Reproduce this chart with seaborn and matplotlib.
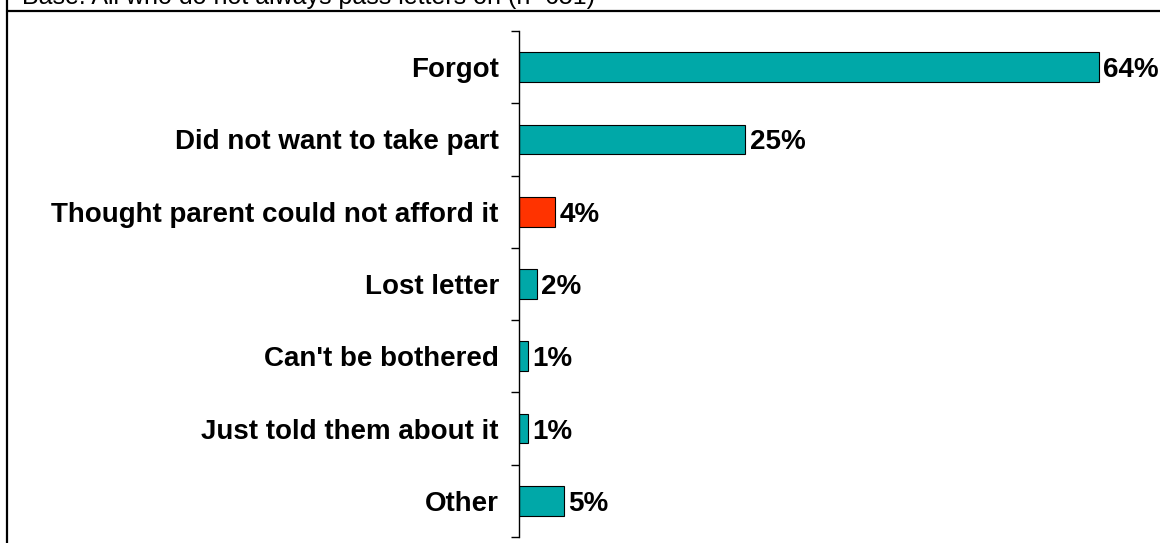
import matplotlib
matplotlib.use("Agg")
import matplotlib.pyplot as plt
from matplotlib.lines import Line2D
import seaborn as sns
import pandas as pd

# Reasons for not passing letters on (percent of respondents)
categories = [
    "Forgot",
    "Did not want to take part",
    "Thought parent could not afford it",
    "Lost letter",
    "Can't be bothered",
    "Just told them about it",
    "Other",
]
values = [64, 25, 4, 2, 1, 1, 5]
value_labels = ["64%", "25%", "4%", "2%", "1%", "1%", "5%"]
bar_colors = ["#00A8A8", "#00A8A8", "#FF3300", "#00A8A8", "#00A8A8", "#00A8A8", "#00A8A8"]
base_note = "Base: All who do not always pass letters on (n=651)"

sns.set_theme(style="white")
plt.rcParams["font.family"] = ["Liberation Sans", "DejaVu Sans"]

df = pd.DataFrame({"reason": categories, "pct": values})

fig = plt.figure(figsize=(11.6, 5.43), dpi=100)
ax = fig.add_axes([519 / 1160, 1 - 537 / 543, (1153 - 519) / 1160, (537 - 31) / 543])

sns.barplot(
    data=df, y="reason", x="pct", hue="reason", palette=bar_colors,
    orient="h", width=0.41, edgecolor="black", linewidth=0.8,
    legend=False, ax=ax, saturation=1,
)

ax.set_xlim(0, 70)
ax.set_ylim(6.5, -0.5)
ax.set_xlabel("")
ax.set_ylabel("")
ax.set_xticks([])

for side in ("top", "right", "bottom"):
    ax.spines[side].set_visible(False)
ax.spines["left"].set_color("black")
ax.spines["left"].set_linewidth(1.0)

# category labels without marks; ticks sit between categories
ax.set_yticks(range(len(categories)))
ax.set_yticklabels(categories, fontsize=20, fontweight="bold", color="black")
ax.tick_params(axis="y", which="major", length=0, pad=14.5)
ax.set_yticks([i - 0.5 for i in range(len(categories) + 1)], minor=True)
ax.tick_params(axis="y", which="minor", left=True, length=6, width=1.0,
               color="black", direction="out")

for container in ax.containers:
    idx = [int(round(p.get_y() + p.get_height() / 2)) for p in container.patches]
    texts = ax.bar_label(container, labels=[value_labels[i] for i in idx], padding=3,
                         fontsize=20, fontweight="bold", color="black")
    for t in texts:
        t.set_va("center_baseline")

# frame lines and base note
fig.add_artist(Line2D([7 / 1160, 7 / 1160], [0, 1], color="black", linewidth=1.6))
fig.add_artist(Line2D([7 / 1160, 1], [1 - 10.5 / 543, 1 - 10.5 / 543], color="black", linewidth=1.6))
fig.text(22 / 1160, 1 - 4 / 543, base_note, fontsize=18, color="black",
         ha="left", va="baseline")

fig.savefig("out.png", dpi=100)
